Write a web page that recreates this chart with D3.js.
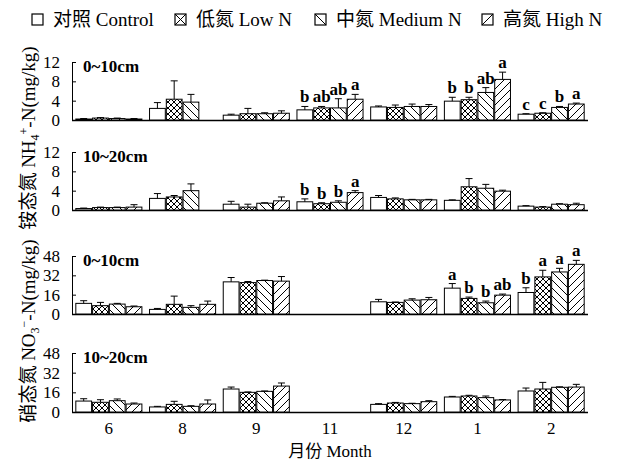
<!DOCTYPE html>
<html><head><meta charset="utf-8">
<script src="https://cdn.jsdelivr.net/npm/d3@7/dist/d3.min.js"></script>
<style>
body{margin:0;background:#fff;}
text{font-family:"Liberation Serif","Noto Sans CJK SC",serif;fill:#000;}
</style></head>
<body><svg id="c" width="619" height="462"></svg>
<script>
const months = ["6","8","9","11","12","1","2"];
const treatments = ["对照 Control","低氮 Low N","中氮 Medium N","高氮 High N"];
const patternIds = ["none","cross","back","fwd"];

// NH4+-N 0~10cm: [Control, Low, Medium, High] per month
const nh4TopMean = [[0.2,0.4,0.3,0.2],[2.4,4.3,3.7,null],[1.0,1.3,1.3,1.4],[2.1,2.5,2.5,4.3],[2.7,2.6,2.8,2.8],[3.9,4.2,5.7,8.4],[1.2,1.4,2.6,3.3]];
const nh4TopErr  = [[0.1,0.1,0.1,0.1],[1.2,3.8,1.6,null],[0.2,1.1,0.2,0.5],[0.7,0.3,1.9,1.0],[0.2,0.5,0.5,0.4],[0.8,0.5,1.0,1.5],[0.1,0.1,0.2,0.2]];
const nh4TopSig  = [null,null,null,["b","ab","ab","a"],null,["b","b","ab","a"],["c","c","b","a"]];

// NH4+-N 10~20cm
const nh4SubMean = [[0.3,0.5,0.5,0.6],[2.4,2.7,4.0,null],[1.2,0.6,1.4,1.9],[1.7,1.3,1.6,3.6],[2.6,2.3,2.1,2.1],[2.0,4.8,4.5,3.9],[0.8,0.6,1.2,1.1]];
const nh4SubErr  = [[0.1,0.1,0.1,0.5],[1.0,0.3,1.4,null],[0.6,0.6,0.1,0.8],[0.6,0.2,0.3,0.4],[0.4,0.2,0.1,0.1],[0.1,1.7,0.8,0.2],[0.1,0.1,0.1,0.3]];
const nh4SubSig  = [null,null,null,["b","b","b","a"],null,null,null];

// NO3--N 0~10cm
const no3TopMean = [[8.8,6.9,8.2,6.0],[3.8,8.0,5.5,8.0],[26.6,26.0,27.7,27.2],[null,null,null,null],[10.1,9.6,11.5,11.8],[21.4,12.9,9.3,15.6],[17.8,30.7,34.8,41.1]];
const no3TopErr  = [[2.2,2.7,0.6,0.6],[0.8,6.8,1.4,2.7],[3.6,0.9,0.3,3.8],[null,null,null,null],[2.0,0.3,1.1,1.9],[3.8,1.1,1.4,0.9],[3.9,5.5,3.0,3.3]];
const no3TopSig  = [null,null,null,null,null,["a","b","b","ab"],["b","a","a","a"]];

// NO3--N 10~20cm
const no3SubMean = [[8.9,7.9,9.2,6.5],[4.1,6.2,4.6,6.5],[18.7,16.0,16.8,21.1],[null,null,null,null],[6.2,7.3,6.8,8.4],[12.2,13.0,11.7,9.8],[17.1,18.7,20.1,20.3]];
const no3SubErr  = [[1.9,2.1,1.4,0.8],[0.5,2.5,0.5,3.3],[1.6,0.3,0.3,2.5],[null,null,null,null],[0.6,0.5,0.3,0.8],[0.5,0.6,1.3,0.3],[2.4,5.4,0.4,2.2]];
const no3SubSig  = [null,null,null,null,null,null,null];

const yTicksNH4 = [0,4,8,12];
const yTicksNO3 = [0,16,32,48];
const depthLabels = ["0~10cm","10~20cm","0~10cm","10~20cm"];
const xLabel = "月份 Month";

const panels = [
  {mean:nh4TopMean, err:nh4TopErr, sig:nh4TopSig, ticks:yTicksNH4, label:depthLabels[0], top:62, bottom:120},
  {mean:nh4SubMean, err:nh4SubErr, sig:nh4SubSig, ticks:yTicksNH4, label:depthLabels[1], top:152, bottom:210},
  {mean:no3TopMean, err:no3TopErr, sig:no3TopSig, ticks:yTicksNO3, label:depthLabels[2], top:256, bottom:314},
  {mean:no3SubMean, err:no3SubErr, sig:no3SubSig, ticks:yTicksNO3, label:depthLabels[3], top:353, bottom:412}
];

const svg = d3.select("#c");
const defs = svg.append("defs");
function addPattern(id, paths, size){
  const p = defs.append("pattern").attr("id",id).attr("patternUnits","userSpaceOnUse")
    .attr("width",size).attr("height",size);
  p.append("rect").attr("width",size).attr("height",size).attr("fill","#fff");
  paths.forEach(d=>p.append("path").attr("d",d).attr("stroke","#000").attr("stroke-width",1).attr("fill","none"));
}
addPattern("cross",["M0,0L6,6","M6,0L0,6","M-1,5L1,7","M5,-1L7,1","M-1,1L1,-1","M5,7L7,5"],6);
addPattern("back",["M0,0L8,8","M-1,7L1,9","M7,-1L9,1"],8);
addPattern("fwd",["M0,8L8,0","M-1,1L1,-1","M7,9L9,7"],8);
const fillFor = i => i===0 ? "#fff" : `url(#${patternIds[i]})`;

const x0 = d3.scaleBand().domain(months).range([72,588]).paddingInner(0.09).paddingOuter(0.045);
const x1 = d3.scaleBand().domain(d3.range(treatments.length)).range([0,x0.bandwidth()]);

panels.forEach((P,pi)=>{
  const y = d3.scaleLinear().domain([0,P.ticks[P.ticks.length-1]]).range([P.bottom,P.top]);
  const g = svg.append("g");
  const ax = g.append("g").attr("transform",`translate(72,0)`)
    .call(d3.axisLeft(y).tickValues(P.ticks).tickSize(-4).tickPadding(12).tickSizeOuter(0));
  ax.select(".domain").attr("stroke","#000");
  ax.selectAll(".tick line").attr("stroke","#000");
  ax.selectAll("text").attr("font-size",17).attr("font-family","Liberation Serif").attr("fill","#000");
  g.append("line").attr("x1",72).attr("x2",588).attr("y1",P.bottom+0.5).attr("y2",P.bottom+0.5)
    .attr("stroke","#000").attr("stroke-width",1.5);
  g.append("text").attr("x",83).attr("y",P.top+10).attr("font-size",17).attr("font-weight","bold").text(P.label);

  months.forEach((m,mi)=>{
    treatments.forEach((t,ti)=>{
      const v = P.mean[mi][ti];
      if(v===null) return;
      const e = P.err[mi][ti];
      const bx = x0(m)+x1(ti);
      const bw = x1.bandwidth();
      g.append("rect").attr("x",bx+0.5).attr("y",y(v)).attr("width",bw-1).attr("height",P.bottom-y(v))
        .attr("fill",fillFor(ti)).attr("stroke","#000").attr("stroke-width",1);
      const cx = bx+bw/2;
      if(e>0){
        g.append("line").attr("x1",cx).attr("x2",cx).attr("y1",y(v)).attr("y2",y(v+e)).attr("stroke","#000");
        g.append("line").attr("x1",cx-3.5).attr("x2",cx+3.5).attr("y1",y(v+e)).attr("y2",y(v+e)).attr("stroke","#000");
      }
      const s = P.sig[mi] ? P.sig[mi][ti] : null;
      if(s){
        g.append("text").attr("x",cx).attr("y",y(v+e)-4).attr("text-anchor","middle")
          .attr("font-size",17).attr("font-weight","bold").text(s);
      }
    });
  });

  if(pi===3){
    months.forEach(m=>{
      g.append("text").attr("x",x0(m)+x0.bandwidth()/2).attr("y",P.bottom+22).attr("text-anchor","middle")
        .attr("font-size",17).text(m);
    });
    g.append("text").attr("x",330).attr("y",P.bottom+45).attr("text-anchor","middle").attr("font-size",17).text(xLabel);
  }
});

function yTitle(cx, cy, parts){
  const t = svg.append("text").attr("transform",`translate(${cx},${cy}) rotate(-90)`)
    .attr("text-anchor","middle").attr("font-size",19);
  parts.forEach(p=>{
    const ts = t.append("tspan").text(p.t);
    if(p.sub){ts.attr("font-size",12).attr("dy",4);}
    if(p.sup){ts.attr("font-size",12).attr("dy",p.dy);}
    if(p.reset){ts.attr("dy",p.reset);}
  });
}
yTitle(35,138,[{t:"铵态氮 NH"},{t:"4",sub:true},{t:"+",sup:true,dy:-11},{t:"-N(mg/kg)",reset:7}]);
yTitle(35,331,[{t:"硝态氮 NO"},{t:"3",sub:true},{t:"−",sup:true,dy:-11},{t:"-N(mg/kg)",reset:7}]);

// legend
const leg = svg.append("g");
const legX = [32,175,315,482];
const legGlyph = [[],["M0,0L11,11","M11,0L0,11"],["M0,0L11,11"],["M0,11L11,0"]];
treatments.forEach((t,i)=>{
  const lg = leg.append("g").attr("transform",`translate(${legX[i]},14)`);
  lg.append("rect").attr("width",11).attr("height",11).attr("fill","#fff").attr("stroke","#000").attr("stroke-width",1.2);
  legGlyph[i].forEach(d=>lg.append("path").attr("d",d).attr("stroke","#000").attr("stroke-width",1));
  leg.append("text").attr("x",legX[i]+21).attr("y",26).attr("font-size",19).text(t);
});
</script></body></html>
